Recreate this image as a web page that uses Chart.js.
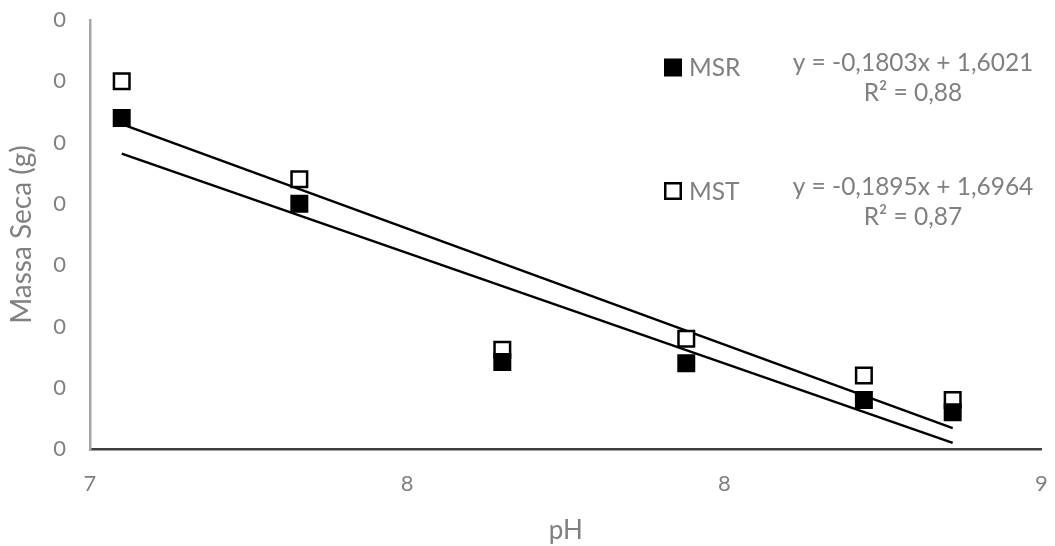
<!DOCTYPE html>
<html lang="pt">
<head>
    <meta charset="UTF-8">
    <title>Massa Seca x pH</title>
    <style>
        body {
            margin: 0;
            padding: 0;
            background-color: #ffffff;
        }
        #grafico {
            display: block;
        }
    </style>
</head>
<body>

    <canvas id="grafico" width="1055" height="546"></canvas>

    <script src="https://cdn.jsdelivr.net/npm/chart.js"></script>
    <script>
        // dados
        const phValues = [7.05, 7.33, 7.65, 7.94, 8.22, 8.36];
        const msrValues = [0.27, 0.20, 0.071, 0.07, 0.04, 0.03];
        const mstValues = [0.30, 0.22, 0.081, 0.09, 0.06, 0.04];

        // pontas das linhas de tendência
        const trendX = [7.05, 8.36];
        const msrTrend = [0.241, 0.005];
        const mstTrend = [0.265, 0.017];

        // marcas dos eixos (rótulos arredondados como no Excel)
        const xTicks = [7, 7.5, 8, 8.5];
        const yTicks = [0, 0.05, 0.1, 0.15, 0.2, 0.25, 0.3, 0.35];

        const seriesNames = ['MSR', 'MST'];
        const equations = ['y = -0,1803x + 1,6021', 'y = -0,1895x + 1,6964'];
        const rSquared = ['R² = 0,88', 'R² = 0,87'];

        const textColor = '#808080';
        Chart.defaults.font.family = 'Lato';
        Chart.defaults.color = textColor;

        function pontos(xs, ys) {
            return xs.map((x, i) => ({ x: x, y: ys[i] }));
        }

        // legenda e equações desenhadas dentro da área do gráfico
        const legendaExcel = {
            id: 'legendaExcel',
            afterDraw(chart) {
                const ctx = chart.ctx;
                const linhas = [67.5, 191];
                ctx.save();
                seriesNames.forEach((nome, i) => {
                    const cy = linhas[i];
                    if (i === 0) {
                        ctx.fillStyle = '#000';
                        ctx.fillRect(664, cy - 9, 18, 18);
                    } else {
                        ctx.fillStyle = '#fff';
                        ctx.fillRect(665, cy - 8, 16, 16);
                        ctx.strokeStyle = '#000';
                        ctx.lineWidth = 2.5;
                        ctx.strokeRect(665.25, cy - 7.75, 15.5, 15.5);
                    }
                    ctx.fillStyle = textColor;
                    ctx.font = '24.5px Lato';
                    ctx.textBaseline = 'middle';
                    ctx.textAlign = 'left';
                    ctx.fillText(nome, 689, cy + 1);

                    ctx.textAlign = 'center';
                    ctx.fillText(equations[i], 913, cy - 4);
                    ctx.fillText(rSquared[i], 913, cy + 26);
                });
                ctx.restore();
            }
        };

        const ctx = document.getElementById('grafico').getContext('2d');

        const grafico = new Chart(ctx, {
            type: 'scatter',
            data: {
                datasets: [
                    {
                        label: 'MSR',
                        data: pontos(phValues, msrValues),
                        pointStyle: 'rect',
                        pointRadius: 11.3,
                        pointHoverRadius: 11.3,
                        backgroundColor: '#000000',
                        borderColor: '#000000',
                        borderWidth: 2,
                        order: 0
                    },
                    {
                        label: 'MST',
                        data: pontos(phValues, mstValues),
                        pointStyle: 'rect',
                        pointRadius: 11,
                        pointHoverRadius: 11,
                        backgroundColor: '#ffffff',
                        borderColor: '#000000',
                        borderWidth: 2.5,
                        order: 1
                    },
                    {
                        label: 'Tendência MSR',
                        data: pontos(trendX, msrTrend),
                        showLine: true,
                        pointRadius: 0,
                        borderColor: '#000000',
                        borderWidth: 2.5,
                        order: 2
                    },
                    {
                        label: 'Tendência MST',
                        data: pontos(trendX, mstTrend),
                        showLine: true,
                        pointRadius: 0,
                        borderColor: '#000000',
                        borderWidth: 2.5,
                        order: 2
                    }
                ]
            },
            options: {
                responsive: false,
                animation: false,
                layout: {
                    padding: { top: 20, right: 12, left: 0, bottom: 0 }
                },
                plugins: {
                    legend: { display: false },
                    tooltip: { enabled: false }
                },
                scales: {
                    x: {
                        type: 'linear',
                        min: 7,
                        max: 8.5,
                        afterBuildTicks: (scale) => {
                            scale.ticks = xTicks.map(v => ({ value: v }));
                        },
                        afterFit: (scale) => {
                            scale.height = 97;
                            scale.paddingLeft = 0;
                            scale.paddingRight = 0;
                        },
                        ticks: {
                            padding: 22,
                            color: textColor,
                            font: { size: 22 },
                            callback: (value) => String(Math.round(value))
                        },
                        grid: { display: false, drawTicks: false },
                        border: { color: '#404040', width: 2.5 },
                        title: {
                            display: true,
                            text: 'pH',
                            color: textColor,
                            font: { size: 26 },
                            padding: { top: 0, bottom: 0 }
                        }
                    },
                    y: {
                        type: 'linear',
                        min: 0,
                        max: 0.35,
                        afterBuildTicks: (scale) => {
                            scale.ticks = yTicks.map(v => ({ value: v }));
                        },
                        afterFit: (scale) => {
                            scale.width = 90;
                            scale.paddingTop = 0;
                            scale.paddingBottom = 0;
                        },
                        ticks: {
                            padding: 24,
                            color: textColor,
                            font: { size: 22 },
                            callback: (value) => String(Math.round(value))
                        },
                        grid: { display: false, drawTicks: false },
                        border: { color: '#a6a6a6', width: 2.5 },
                        title: {
                            display: true,
                            text: 'Massa Seca (g)',
                            color: textColor,
                            font: { size: 28 },
                            padding: { top: 5, bottom: 0 }
                        }
                    }
                }
            },
            plugins: [legendaExcel]
        });
    </script>
</body>
</html>
